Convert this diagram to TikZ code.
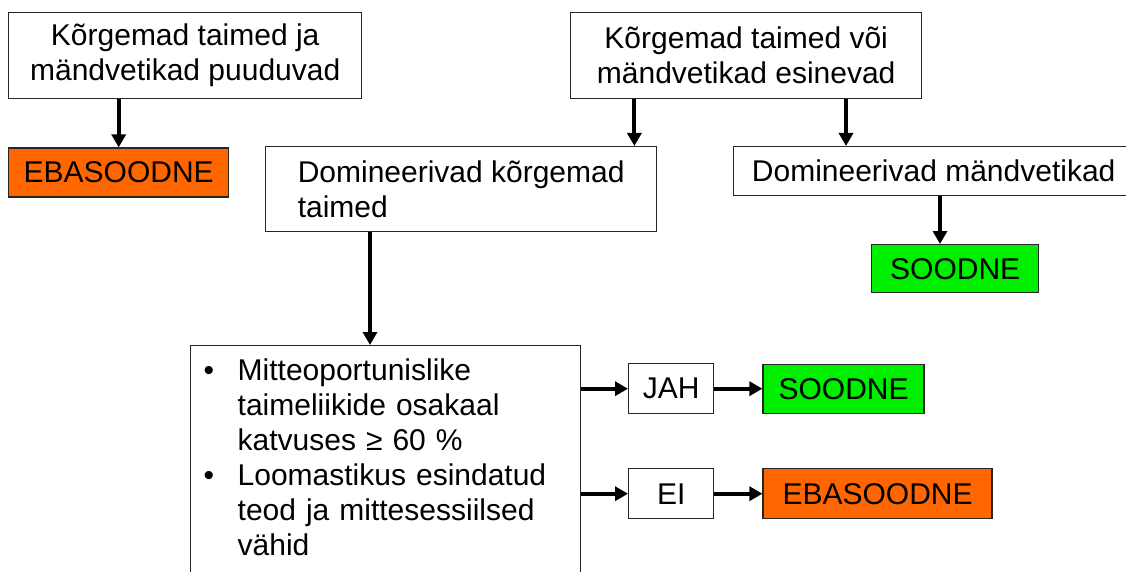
\documentclass[tikz,border=0pt]{standalone}
\usepackage{fontspec}
\setmainfont{Liberation Sans}
\usepackage{xcolor}
\usepackage{tikz}
\usetikzlibrary{arrows.meta, positioning}
\definecolor{badcol}{HTML}{FF6600}
\definecolor{goodcol}{HTML}{00EE00}
\newcommand{\bul}{\makebox[34pt][l]{•}}
\newcommand{\ind}{\hspace*{34pt}}

\begin{document}
\begin{tikzpicture}[
  x=1pt, y=-1pt,
  box/.style={rectangle, draw=black!85, line width=1.4pt, align=center,
              inner sep=0pt, font=\fontsize{30}{35}\selectfont},
  bad/.style={box, fill=badcol},
  good/.style={box, fill=goodcol},
  arrow/.style={-{Triangle[length=13pt,width=14pt]}, line width=4pt}
]
  \useasboundingbox (0,0) rectangle (1126,572);
  \clip (0,0) rectangle (1126,572);

  % ülemine rida
  \node[box, anchor=north west, minimum width=353pt, minimum height=86pt] (absent) at (8,12) {Kõrgemad taimed ja\\mändvetikad puuduvad};
  \node[box, anchor=north west, minimum width=351pt, minimum height=86pt] (present) at (570,12) {Kõrgemad taimed või\\mändvetikad esinevad};

  % teine rida
  \node[bad, below=48pt of absent.south west, anchor=north west, minimum width=220pt, minimum height=49pt] (bad1) {EBASOODNE};
  \node[box, anchor=north west, align=left, minimum width=391pt, minimum height=85pt] (domtall) at (265,146) {Domineerivad kõrgemad\\taimed};
  \node[box, anchor=north west, minimum width=400pt, minimum height=49pt] (dompine) at (733,146) {Domineerivad mändvetikad};
  \node[good, anchor=north west, minimum width=167pt, minimum height=48pt] (good1) at (871,244) {SOODNE};

  % tingimused
  \node[box, anchor=north west, align=left, text width=364pt, inner xsep=13pt, inner ysep=13pt, text depth=260pt] (criteria) at (190,345)
    {\bul Mitteoportunislike\\ \ind taimeliikide osakaal\\ \ind katvuses ≥ 60 \%\\
     \bul Loomastikus esindatud\\ \ind teod ja mittesessiilsed\\ \ind vähid};
  \node[box, anchor=north west, minimum width=85pt, minimum height=50pt] (jah) at (628,363) {JAH};
  \node[good, right=48pt of jah, minimum width=161pt, minimum height=49pt] (good2) {SOODNE};
  \node[box, anchor=north west, minimum width=85pt, minimum height=50pt] (ei) at (628,468) {EI};
  \node[bad, right=48pt of ei, minimum width=229pt, minimum height=50pt] (bad2) {EBASOODNE};

  % nooled
  \coordinate (p1) at ([xshift=-23pt]domtall.north east);
  \coordinate (p2) at ([xshift=113pt]dompine.north west);
  \coordinate (p3) at ([xshift=69pt]good1.north west);
  \coordinate (p4) at ([xshift=105pt]domtall.south west);

  \draw[arrow] (bad1.north |- absent.south) -- (bad1.north);
  \draw[arrow] (p1 |- present.south) -- (p1);
  \draw[arrow] (p2 |- present.south) -- (p2);
  \draw[arrow] (p3 |- dompine.south) -- (p3);
  \draw[arrow] (p4) -- (p4 |- criteria.north);

  \draw[arrow] (criteria.east |- jah.west) -- (jah.west);
  \draw[arrow] (jah) -- (good2);
  \draw[arrow] (criteria.east |- ei.west) -- (ei.west);
  \draw[arrow] (ei) -- (bad2);

\end{tikzpicture}
\end{document}
